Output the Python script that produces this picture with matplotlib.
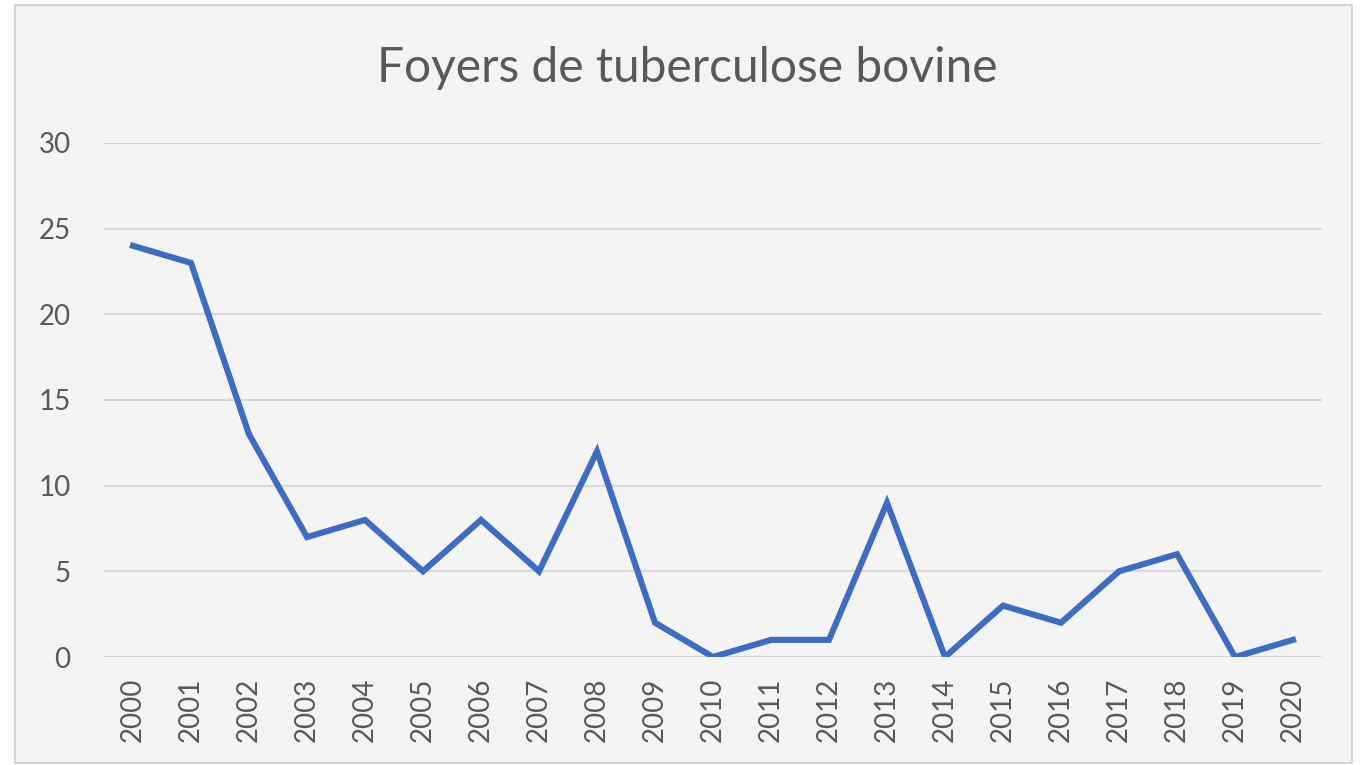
import matplotlib
matplotlib.use("Agg")
import matplotlib.pyplot as plt
from matplotlib.patches import Rectangle

years = [str(y) for y in range(2000, 2021)]
foyers = [24, 23, 13, 7, 8, 5, 8, 5, 12, 2, 0, 1, 1, 9, 0, 3, 2, 5, 6, 0, 1]
yticks = [0, 5, 10, 15, 20, 25, 30]
title = "Foyers de tuberculose bovine"

plt.rcParams['font.family'] = ['Lato', 'DejaVu Sans']

fig = plt.figure(figsize=(13.63, 7.65), dpi=100)
fig.patch.set_facecolor('white')
bg = '#f4f4f4'
rect = Rectangle((15/1363, 2/765), 1337/1363, 758/765,
                 transform=fig.transFigure, facecolor=bg,
                 edgecolor='#d4d4d4', linewidth=1.5, zorder=-10)
fig.add_artist(rect)

ax = fig.add_axes([104/1363, 1 - 657/765, (1322 - 104)/1363, (657 - 143)/765])
ax.set_zorder(1)
ax.set_facecolor(bg)
x = list(range(len(years)))
ax.plot(x, foyers, color='#3d6cc0', linewidth=4.4, solid_joinstyle='miter', zorder=3)

ax.set_xlim(-0.5, len(years) - 0.5)
ax.set_ylim(0, 30)
ax.set_yticks(yticks)
ax.set_yticklabels([str(v) for v in yticks])
ax.set_xticks(x)
ax.set_xticklabels(years, rotation=90)
ax.tick_params(axis='y', length=0, pad=24, labelsize=20, labelcolor='#595959')
ax.tick_params(axis='x', length=0, pad=15, labelsize=20, labelcolor='#595959')
ax.grid(axis='y', color='#d9d9d9', linewidth=1.5)
ax.set_axisbelow(True)
for s in ax.spines.values():
    s.set_visible(False)

fig.text(687/1363, 1 - 68/765, title, ha='center', va='center',
         fontsize=34.5, color='#595959', zorder=5)

fig.savefig('out.png', dpi=100, facecolor=fig.get_facecolor())
